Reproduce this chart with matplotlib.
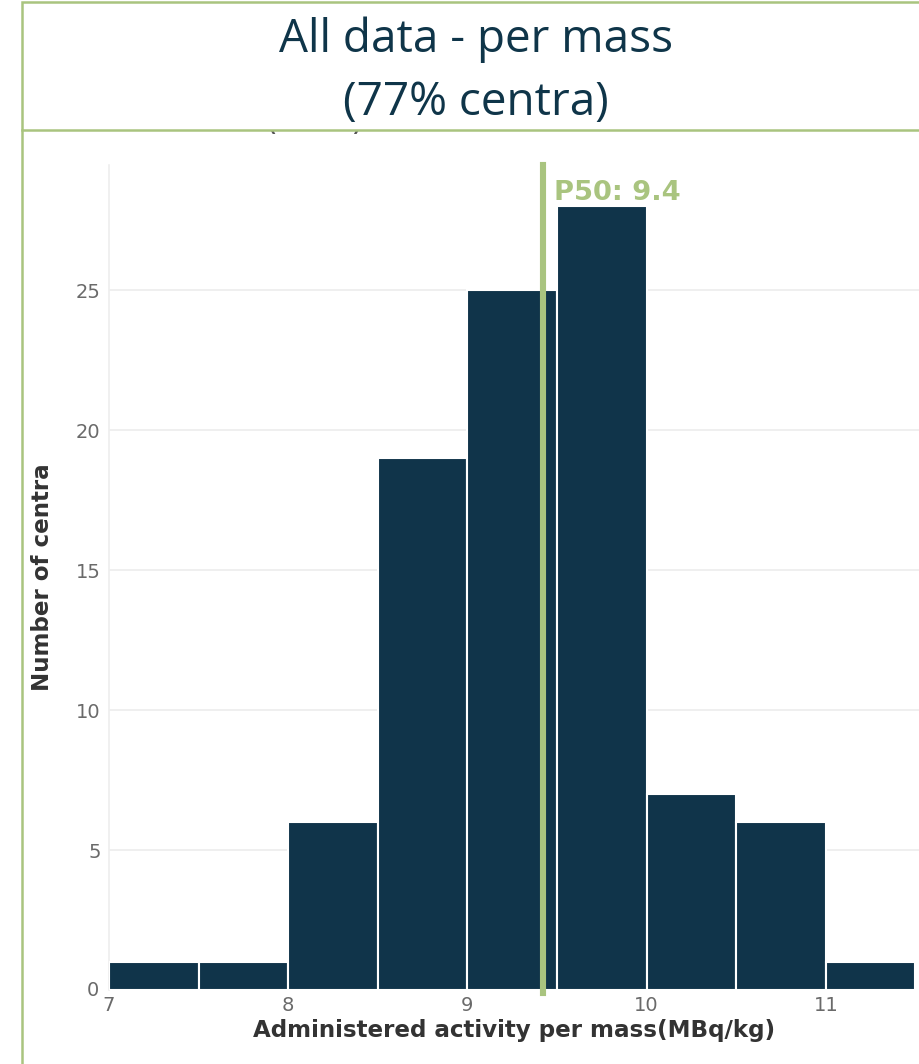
import matplotlib
matplotlib.use("Agg")
import matplotlib.pyplot as plt
from matplotlib.patches import Rectangle
from matplotlib.lines import Line2D

# ---- data ----
bin_edges = [7.0, 7.5, 8.0, 8.5, 9.0, 9.5, 10.0, 10.5, 11.0, 11.5]
counts = [1, 1, 6, 19, 25, 28, 7, 6, 1]
median_value = 9.42
median_label = "P50: 9.4"
x_ticks = [7, 8, 9, 10, 11]
y_ticks = [0, 5, 10, 15, 20, 25]
title_lines = ["All data - per mass", "(77% centra)"]
x_title = "Administered activity per mass(MBq/kg)"
y_title = "Number of centra"

W, H = 920, 1064
fig = plt.figure(figsize=(W / 100, H / 100), dpi=100)
fig.patch.set_facecolor("white")

def fx(px):
    return px / W

def fy(py):
    return 1 - py / H

ax = fig.add_axes([fx(109), fy(990), fx(920) - fx(109), fy(165) - fy(990)])
ax.set_xlim(7, 7 + (920 - 109) / 179.2)
ax.set_ylim(0, (990 - 165) / 28.0)

bar_color = "#10344a"
widths = [bin_edges[i + 1] - bin_edges[i] for i in range(len(counts))]
ax.bar(bin_edges[:-1], counts, width=widths, align="edge", color=bar_color,
       edgecolor="white", linewidth=1.5, zorder=3)

ax.set_yticks(y_ticks[1:])
ax.yaxis.grid(True, color="#efefef", linewidth=1.4, zorder=0)
ax.set_axisbelow(True)
for s in ["top", "right", "bottom"]:
    ax.spines[s].set_visible(False)
ax.spines["left"].set_color("#eeeeee")
ax.spines["left"].set_linewidth(1.2)

ax.set_xticks(x_ticks)
ax.tick_params(axis="both", length=0, labelsize=14, labelcolor="#6a6a6a")
ax.tick_params(axis="x", pad=4)
ax.tick_params(axis="y", pad=6)
ax.text(-0.012, 0, "0", transform=ax.get_yaxis_transform(), ha="right",
        va="center", fontsize=14, color="#6a6a6a")

ax.set_xlabel(x_title, fontsize=16.6, fontweight="bold", color="#333333")
ax.xaxis.set_label_coords(0.5, -(1019 - 990) / 825.0)
ax.set_ylabel(y_title, fontsize=16.6, fontweight="bold", color="#333333")
ax.yaxis.set_label_coords((43 - 109) / 811.0, 0.5)
ax.yaxis.label.set_va("center")

# median line
green = "#a9c47f"
ax.axvline(median_value, ymin=-0.004, ymax=1.0, color=green, linewidth=4.4,
           zorder=4, clip_on=False)
ax.text(median_value + 0.065, (990 - 200) / 28.0, median_label, color=green,
        fontsize=19.7, fontweight="bold", ha="left", va="baseline", zorder=5)

# hidden original subtitle peeking below title box
fig.text(fx(314), fy(130), "(77%)", ha="center", va="baseline",
         fontsize=24, color="#555555", zorder=1)

# title box
box = Rectangle((fx(22), fy(130)), fx(930) - fx(22), fy(2) - fy(130),
                transform=fig.transFigure, facecolor="white", edgecolor=green,
                linewidth=1.8, zorder=10)
fig.patches.append(box)
fig.lines.append(Line2D([fx(22), fx(22)], [fy(130), 0], transform=fig.transFigure,
                        color=green, linewidth=1.8, zorder=10))

title_color = "#0f3549"
fig.text(fx(476), fy(40), title_lines[0], ha="center", va="center",
         fontsize=33, color=title_color, family="Open Sans", zorder=11)
fig.text(fx(476), fy(103), title_lines[1], ha="center", va="center",
         fontsize=33, color=title_color, family="Open Sans", zorder=11)

fig.savefig("out.png", dpi=100, facecolor="white")
